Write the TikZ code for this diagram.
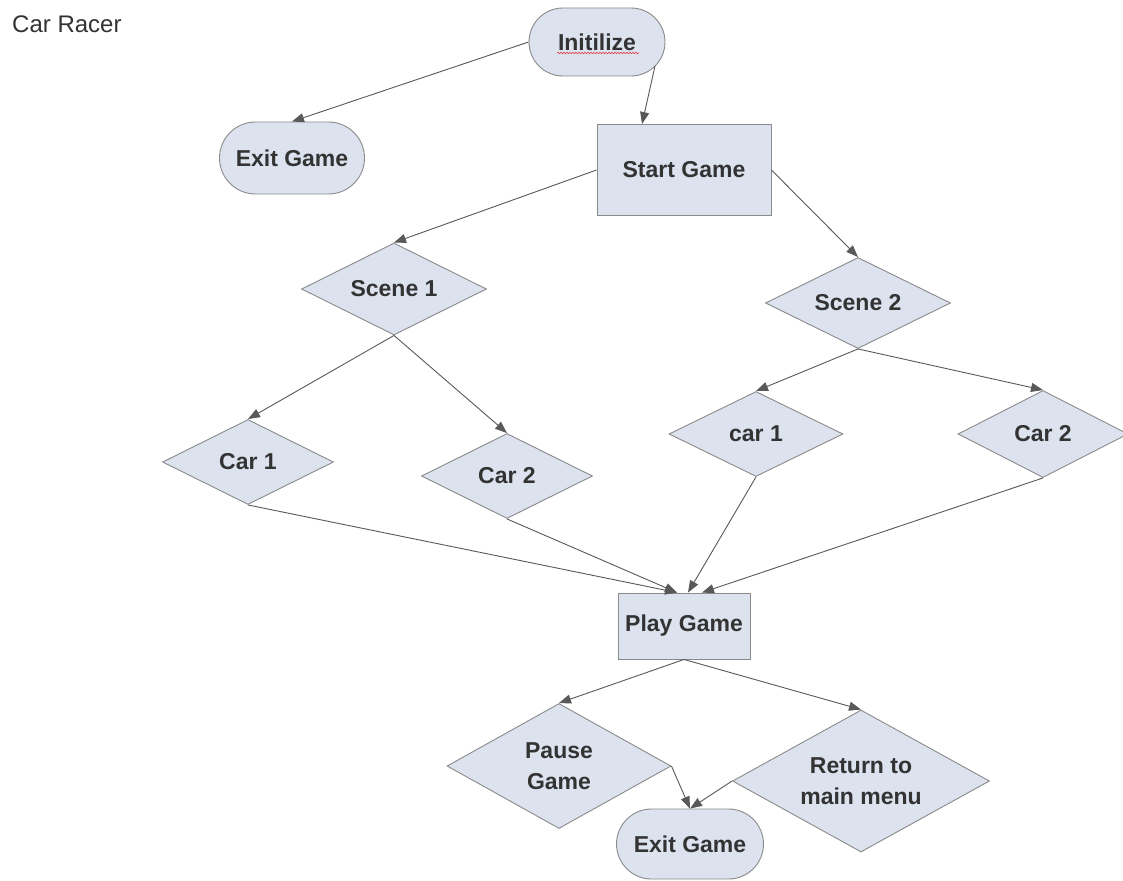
\documentclass[tikz,border=0pt]{standalone}
\usepackage{fontspec}
\setmainfont{Liberation Sans}
\usetikzlibrary{shapes.geometric,arrows.meta,calc,decorations.pathmorphing}
\definecolor{nodefill}{HTML}{DCE3EF}
\definecolor{nodeline}{HTML}{8A8A8A}
\definecolor{edgecol}{HTML}{595959}
\definecolor{txt}{HTML}{333333}
\definecolor{spell}{HTML}{E03A3A}
\begin{document}
\begin{tikzpicture}[x=1pt,y=-1pt,
  base/.style={draw=nodeline,fill=nodefill,line width=0.9pt,text=txt,
    font=\fontsize{23}{31}\selectfont\bfseries,align=center,inner sep=0pt},
  stadium/.style={base,rectangle,rounded corners=#1},
  box/.style={base,rectangle},
  dia/.style={base,diamond,aspect=2},
  arr/.style={draw=edgecol,line width=0.9pt,-{Triangle[length=12pt,width=9pt]}}]
\fill[white] (0,0) rectangle (1123,880);
\useasboundingbox (0,0) rectangle (1123,880);

\node[anchor=base west,text=txt,font=\fontsize{24}{28}\selectfont,inner sep=0pt] (title) at (12,33) {Car Racer};

\node[stadium=34pt,minimum width=136pt,minimum height=68pt] (init) at (597,42) {Initilize};
\node[stadium=36pt,minimum width=145pt,minimum height=72pt] (exitA) at (292,158) {Exit Game};
\node[box,minimum width=174pt,minimum height=91pt] (start) at (684,170) {Start Game};
\node[dia,minimum width=185pt,minimum height=92pt] (sc1) at (394,289) {Scene 1};
\node[dia,minimum width=185pt,minimum height=91pt] (sc2) at (858,303) {Scene 2};
\node[dia,minimum width=171pt,minimum height=85pt] (c1a) at (248,462) {Car 1};
\node[dia,minimum width=171pt,minimum height=85pt] (c2a) at (507,476) {Car 2};
\node[dia,minimum width=174pt,minimum height=85pt] (c1b) at (756,434) {car 1};
\node[dia,minimum width=170pt,minimum height=87pt] (c2b) at (1043,434) {Car 2};
\node[box,minimum width=132pt,minimum height=66pt] (play) at (684,626) {Play Game};
\node[dia,minimum width=224pt,minimum height=125pt] (pause) at (559,766) {Pause\\Game};
\node[dia,minimum width=257pt,minimum height=142pt] (ret) at (861,781) {Return to\\main menu};
\node[stadium=35pt,minimum width=147pt,minimum height=70pt] (exitB) at (690,844) {Exit Game};

\draw[spell,line width=0.6pt,decorate,decoration={snake,segment length=3pt,amplitude=0.8pt}]
  ($(init.center)+(-40,11)$) -- ($(init.center)+(42,11)$);

\draw[arr] (init.west) -- (exitA.north);
\draw[arr] ($(init.center)+(58,24)$) -- ($(start.north)+(-42,0)$);
\draw[arr] (start.west) -- (sc1.north);
\draw[arr] (start.east) -- (sc2.north);
\draw[arr] (sc1.south) -- (c1a.north);
\draw[arr] (sc1.south) -- (c2a.north);
\draw[arr] (sc2.south) -- (c1b.north);
\draw[arr] (sc2.south) -- (c2b.north);
\draw[arr] (c1a.south) -- ($(play.north)+(-7,0)$);
\draw[arr] (c2a.south) -- ($(play.north)+(-7,0)$);
\draw[arr] (c1b.south) -- ($(play.north)+(4,0)$);
\draw[arr] (c2b.south) -- ($(play.north)+(18,0)$);
\draw[arr] (play.south) -- (pause.north);
\draw[arr] (play.south) -- (ret.north);
\draw[arr] (pause.east) -- (exitB.north);
\draw[arr] (ret.west) -- (exitB.north);
\end{tikzpicture}
\end{document}
